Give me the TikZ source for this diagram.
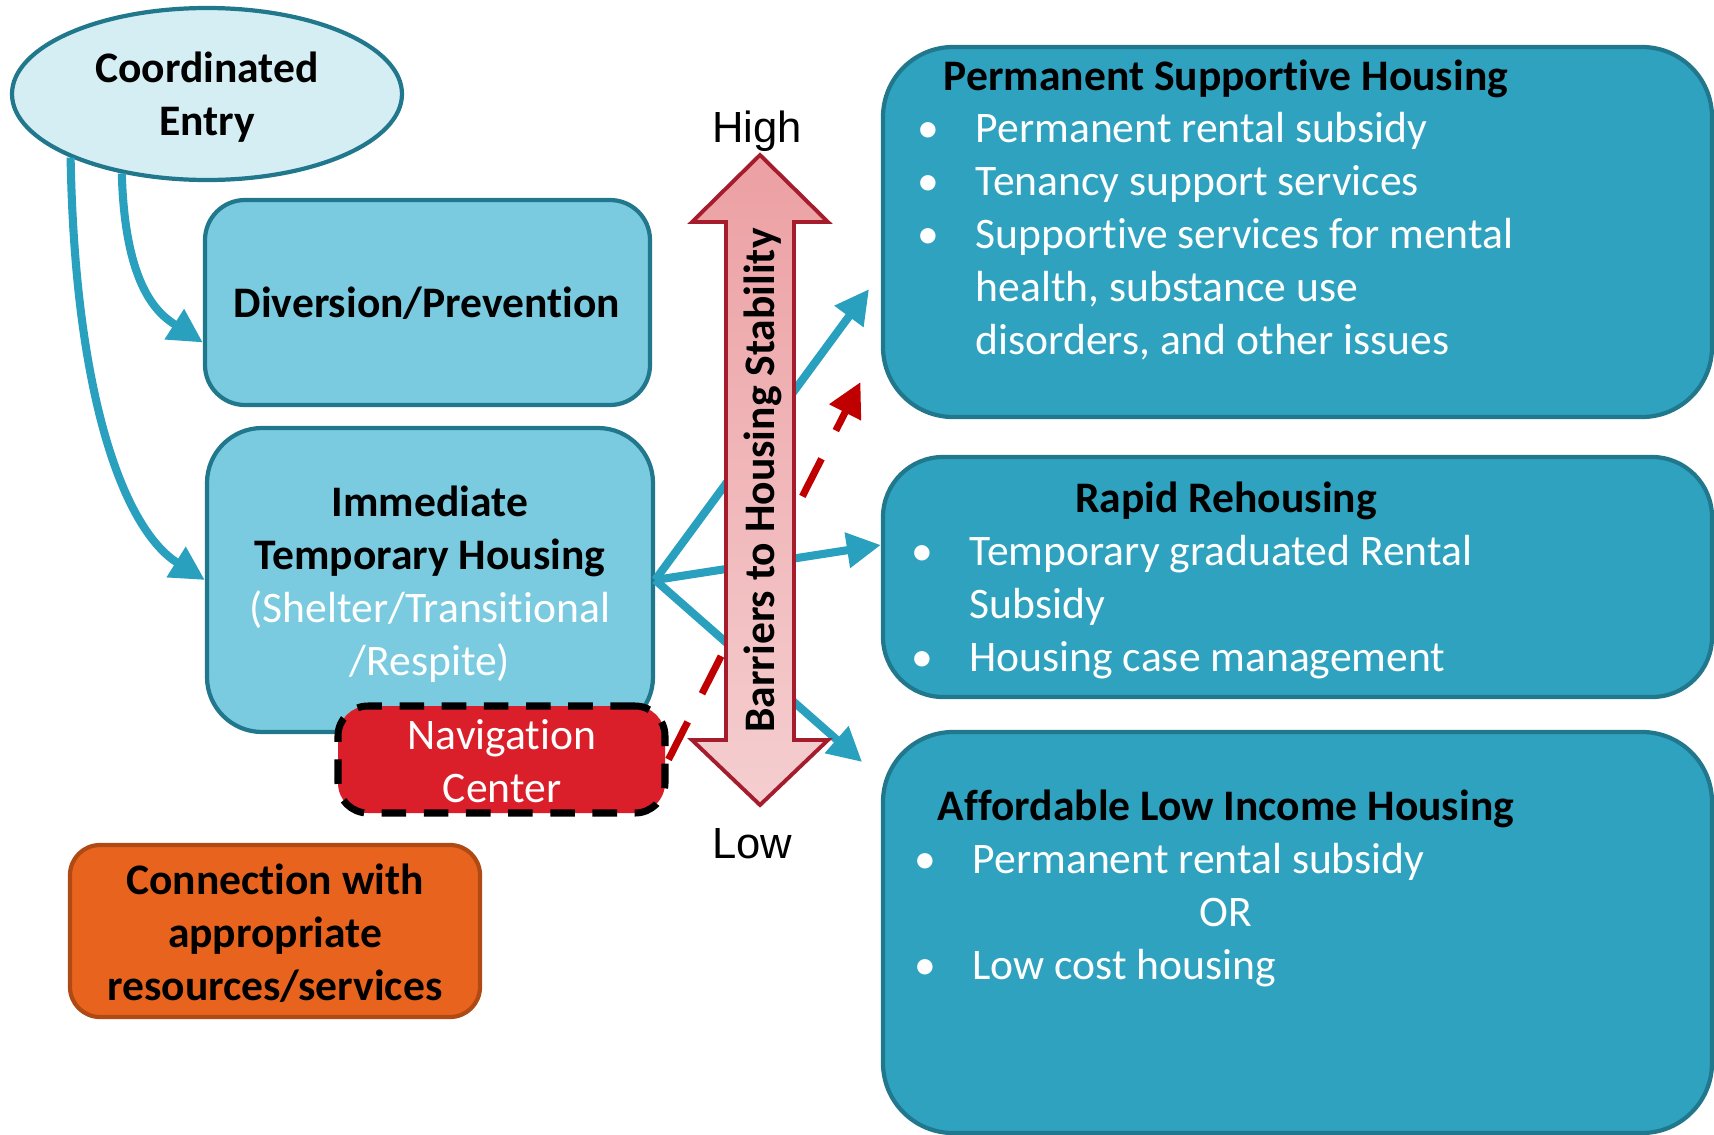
\documentclass[tikz,border=0pt]{standalone}
\usepackage{fontspec}
\setmainfont{Carlito}[Ligatures=NoCommon]
\newfontfamily\arialfont{Liberation Sans}
\usetikzlibrary{shapes.geometric,arrows.meta}

\definecolor{entryfill}{RGB}{213,238,244}
\definecolor{boxline}{RGB}{33,120,140}
\definecolor{lightbox}{RGB}{122,203,224}
\definecolor{darkbox}{RGB}{46,162,191}
\definecolor{flowcol}{RGB}{42,160,191}
\definecolor{navred}{RGB}{218,31,42}
\definecolor{connorange}{RGB}{232,100,30}
\definecolor{connline}{RGB}{176,74,20}
\definecolor{dashred}{RGB}{192,0,0}
\definecolor{barline}{RGB}{165,28,45}
\definecolor{bartop}{RGB}{236,160,163}
\definecolor{barbot}{RGB}{245,206,208}

\newcommand{\bul}{\makebox[0.53cm][l]{\makebox[0.12cm]{\textbullet}}}
\newcommand{\ind}{\hspace*{0.53cm}}

\tikzset{
	rbox/.style={draw=boxline, line width=1.2pt, rounded corners=0.55cm, inner sep=0pt},
	txt/.style={inner sep=0pt, anchor=base, font=\fontsize{12.4}{15.1}\selectfont},
	flow/.style={draw=flowcol, line width=2.3pt, -{Triangle[length=3.4mm,width=3.4mm]}},
}

\begin{document}
\begin{tikzpicture}
	\useasboundingbox (0,0) rectangle (17.14,-11.34);

	%% Boxes
	\node[ellipse, draw=boxline, fill=entryfill, line width=1.2pt, inner sep=0pt,
		minimum width=3.9cm, minimum height=1.72cm] (ce) at (2.07,-0.94) {};
	\node[rbox, fill=lightbox, minimum width=4.45cm, minimum height=2.05cm, rounded corners=0.4cm] (div) at (4.275,-3.025) {};
	\node[rbox, fill=lightbox, minimum width=4.46cm, minimum height=3.04cm] (ith) at (4.30,-5.80) {};
	\node[rbox, draw=connline, fill=connorange, minimum width=4.10cm, minimum height=1.72cm, rounded corners=0.3cm] (conn) at (2.75,-9.31) {};

	\node[rbox, fill=darkbox, minimum width=8.29cm, minimum height=3.70cm, rounded corners=0.7cm] (psh) at (12.975,-2.32) {};
	\node[rbox, fill=darkbox, minimum width=8.29cm, minimum height=2.40cm, rounded corners=0.6cm] (rrh) at (12.975,-5.77) {};
	\node[rbox, fill=darkbox, minimum width=8.29cm, minimum height=4.01cm, rounded corners=0.7cm] (alih) at (12.975,-9.325) {};

	%% Pfeile
	\draw[flow] (ce.223) .. controls (1.25,-2.9) and (1.6,-3.15) .. ([yshift=-0.4cm]div.west);
	\draw[flow] (ce.205) .. controls (0.75,-4.0) and (1.25,-5.3) .. (ith.west);
	\draw[flow, shorten >=2mm] (ith.east) -- ([yshift=-0.41cm]psh.west);
	\draw[flow] (ith.east) -- ([yshift=0.32cm]rrh.west);
	\draw[flow, shorten >=2.5mm] (ith.east) -- ([yshift=1.54cm]alih.west);

	\node[rbox, draw=black, fill=navred, line width=2pt, dash pattern=on 7pt off 5pt,
		minimum width=3.27cm, minimum height=1.07cm, rounded corners=0.3cm] (nav) at (5.015,-7.595) {};
	\draw[draw=dashred, line width=2pt, dash pattern=on 12pt off 9pt, shorten >=4.5mm,
		-{Triangle[length=3.4mm,width=3.4mm]}] (nav.east) -- ([yshift=-1.1cm]psh.west);

	%% Doppelpfeil
	\draw[barline, line width=1.1pt, top color=bartop, bottom color=barbot]
		(7.60,-1.55) -- (8.28,-2.22) -- (7.94,-2.22) -- (7.94,-7.40) -- (8.28,-7.40)
		-- (7.60,-8.05) -- (6.92,-7.40) -- (7.26,-7.40) -- (7.26,-2.22) -- (6.92,-2.22) -- cycle;
	\node[txt, rotate=90] (bar) at (7.74,-4.805) {\bfseries Barriers to Housing Stability};
	\node[txt] (high) at (7.57,-1.42) {\arialfont High};
	\node[txt] (low) at (7.52,-8.58) {\arialfont Low};

	%% Texte links
	\node[txt] (cetxt) at (2.07,-0.82) {\begin{tabular}[t]{@{}c@{}}\bfseries Coordinated\\ \bfseries Entry\end{tabular}};
	\node[txt] (divtxt) at (4.27,-3.17) {\bfseries Diversion/Prevention};
	\node[txt] (ithtxt) at (4.30,-5.16) {\begin{tabular}[t]{@{}c@{}}\bfseries Immediate\\ \bfseries Temporary Housing\\
		\color{white}(Shelter/Transitional\\ \color{white}/Respite)\end{tabular}};
	\node[txt, text=white] (navtxt) at (5.02,-7.49) {\begin{tabular}[t]{@{}c@{}}Navigation\\ Center\end{tabular}};
	\node[txt] (conntxt) at (2.75,-8.94) {\begin{tabular}[t]{@{}c@{}}\bfseries Connection with\\ \bfseries appropriate\\
		\bfseries resources/services\end{tabular}};

	%% Texte rechts
	\node[txt] (pshhead) at (12.26,-0.90) {\bfseries Permanent Supportive Housing};
	\node[txt, anchor=base west, text=white] (pshlist) at (9.22,-1.42) {\begin{tabular}[t]{@{}l@{}}
		\bul Permanent rental subsidy\\
		\bul Tenancy support services\\
		\bul Supportive services for mental\\
		\ind health, substance use\\
		\ind disorders, and other issues\end{tabular}};

	\node[txt] (rrhhead) at (12.26,-5.12) {\bfseries Rapid Rehousing};
	\node[txt, anchor=base west, text=white] (rrhlist) at (9.16,-5.65) {\begin{tabular}[t]{@{}l@{}}
		\bul Temporary graduated Rental\\
		\ind Subsidy\\
		\bul Housing case management\end{tabular}};

	\node[txt] (alihhead) at (12.26,-8.20) {\bfseries Affordable Low Income Housing};
	\node[txt, anchor=base west, text=white] (alih1) at (9.19,-8.73) {\bul Permanent rental subsidy};
	\node[txt, text=white] (alihor) at (12.26,-9.26) {OR};
	\node[txt, anchor=base west, text=white] (alih2) at (9.19,-9.79) {\bul Low cost housing};
\end{tikzpicture}
\end{document}
